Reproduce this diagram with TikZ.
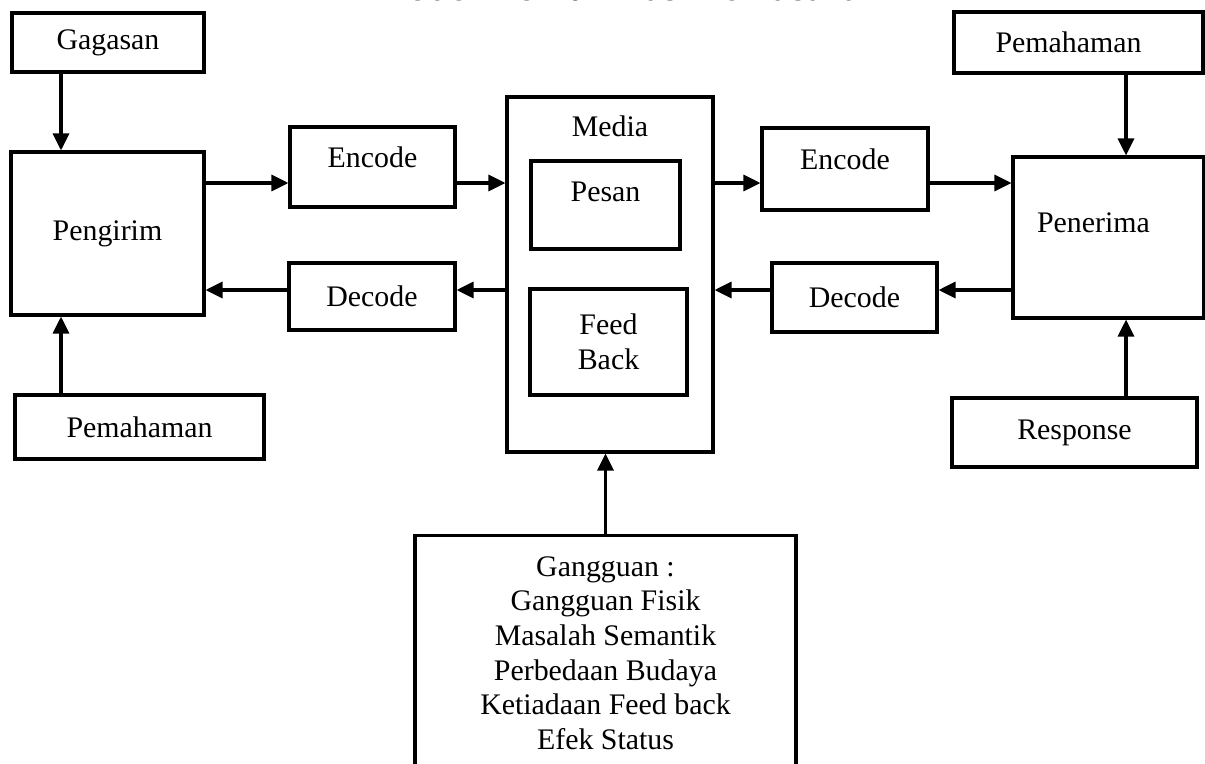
\documentclass[tikz,border=0pt]{standalone}
\usepackage{fontspec}
\setmainfont{Liberation Serif}
\usepackage{tikz}
\usetikzlibrary{arrows.meta,positioning}

\tikzset{
	kotak/.style={draw, line width=1.8pt, align=center, inner sep=0pt},
	panah/.style={line width=1.8pt, -{Triangle[length=0.34cm,width=0.32cm]}},
}

\begin{document}
\begin{tikzpicture}[x=0.02cm, y=-0.02cm, font=\fontsize{17}{19.7}\selectfont]
		\useasboundingbox (0,0) rectangle (1205,764);
		\node[anchor=base, font=\fontsize{22}{26}\selectfont\bfseries] (Judul) at (628,0.5) {Model Komunikasi Pemasaran};
		
		\coordinate (Kiri) at (61,0);
		\coordinate (Kanan) at (1126,0);
		\coordinate (Baris1) at (0,183);
		\coordinate (Baris2) at (0,290);
		
		\node[kotak, minimum width=3.84cm, minimum height=1.18cm] (Gagasan) at (108,42.5) {Gagasan};
		\node[kotak, minimum width=3.86cm, minimum height=3.26cm] (Pengirim) at (107.5,233.5) {Pengirim};
		\node[kotak, minimum width=4.98cm, minimum height=1.28cm] (PemahamanKiri) at (139.5,427) {Pemahaman};
		\node[kotak, minimum width=3.3cm, minimum height=1.6cm, text depth=0.38cm] (EncodeKiri) at (372.5,167) {Encode};
		\node[kotak, minimum width=3.32cm, minimum height=1.34cm] (DecodeKiri) at (372,296.5) {Decode};
		
		\node[kotak, minimum width=4.12cm, minimum height=7.1cm] (Media) at (610,274.5) {};
		\node[below=0.82cm of Media.north, anchor=base] (MediaLabel) {Media};
		\node[kotak, minimum width=2.98cm, minimum height=1.76cm, text depth=0.52cm] (Pesan) at (605.5,205) {Pesan};
		\node[kotak, minimum width=3.14cm, minimum height=2.12cm] (FeedBack) at (608.5,342) {Feed\\Back};
		
		\node[kotak, minimum width=3.32cm, minimum height=1.64cm, text depth=0.38cm] (EncodeKanan) at (845,169) {Encode};
		\node[kotak, minimum width=3.3cm, minimum height=1.38cm] (DecodeKanan) at (854.5,297.5) {Decode};
		\node[kotak, minimum width=3.82cm, minimum height=3.22cm, text depth=0.6cm] (Penerima) at (1108.5,237.5) {Penerima\hspace{0.6cm}};
		\node[kotak, minimum width=4.98cm, minimum height=1.22cm] (PemahamanKanan) at (1078.5,42.5) {Pemahaman\hspace{0.4cm}};
		\node[kotak, minimum width=4.9cm, minimum height=1.38cm] (Response) at (1074.5,432.5) {Response};
		
		\node[kotak, anchor=north, minimum width=7.62cm, minimum height=4.7cm] (Gangguan) at (605.5,534) {Gangguan :\\ Gangguan Fisik\\ Masalah Semantik\\ Perbedaan Budaya\\ Ketiadaan Feed back\\ Efek Status};
		
		\draw[panah] (Gagasan.south -| Kiri) -- (Pengirim.north -| Kiri);
		\draw[panah] (PemahamanKiri.north -| Kiri) -- (Pengirim.south -| Kiri);
		\draw[panah] (PemahamanKanan.south -| Kanan) -- (Penerima.north -| Kanan);
		\draw[panah] (Response.north -| Kanan) -- (Penerima.south -| Kanan);
		
		\draw[panah] (Pengirim.east |- Baris1) -- (EncodeKiri.west |- Baris1);
		\draw[panah] (EncodeKiri.east |- Baris1) -- (Media.west |- Baris1);
		\draw[panah] (Media.east |- Baris1) -- (EncodeKanan.west |- Baris1);
		\draw[panah] (EncodeKanan.east |- Baris1) -- (Penerima.west |- Baris1);
		
		\draw[panah] (Penerima.west |- Baris2) -- (DecodeKanan.east |- Baris2);
		\draw[panah] (DecodeKanan.west |- Baris2) -- (Media.east |- Baris2);
		\draw[panah] (Media.west |- Baris2) -- (DecodeKiri.east |- Baris2);
		\draw[panah] (DecodeKiri.west |- Baris2) -- (Pengirim.east |- Baris2);
		
		\draw[panah] (Gangguan.north) -- (Gangguan.north |- Media.south);
	\end{tikzpicture}
\end{document}
